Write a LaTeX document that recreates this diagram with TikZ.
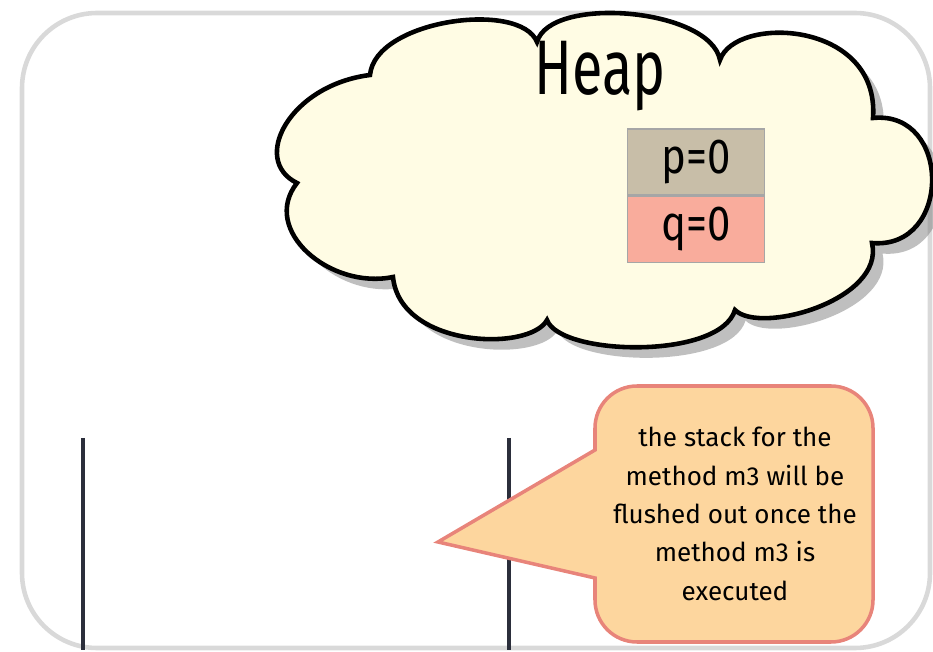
\documentclass[tikz,border=0pt]{standalone}
\usepackage{fontspec}
\setmainfont{Fira Sans}
\usetikzlibrary{shadows}
\definecolor{cloudfill}{HTML}{FFFCE4}
\definecolor{pfill}{HTML}{C8BEA8}
\definecolor{qfill}{HTML}{F9AC9C}
\definecolor{notefill}{HTML}{FDD69E}
\definecolor{noteline}{HTML}{E8847A}
\definecolor{stackline}{HTML}{2B2E3B}
\tikzset{
  heapcell/.style={draw=gray!70, minimum width=1.37cm, minimum height=0.66cm,
    inner sep=0pt, font=\fontsize{14}{16}\selectfont},
  stackwall/.style={stackline, line width=1.2pt},
}
\begin{document}
\begin{tikzpicture}[x=0.01cm, y=-0.01cm]
\useasboundingbox (0,0) rectangle (933,652);
% outer frame
\draw[gray!30, line width=1.3pt, rounded corners=0.75cm] (22,13) rectangle (930,648);
% heap cloud (nine puffs, valley to valley)
\draw[line width=1.3pt, fill=cloudfill,
  drop shadow={opacity=0.5, shadow xshift=3pt, shadow yshift=-3pt}]
  (370,75) .. controls (375,20) and (520,0) .. (537,42)
  .. controls (550,-5) and (710,8) .. (720,60)
  .. controls (735,15) and (880,20) .. (873,118)
  .. controls (952,110) and (952,250) .. (872,243)
  .. controls (885,300) and (760,335) .. (735,310)
  .. controls (720,360) and (560,356) .. (547,320)
  .. controls (530,352) and (400,348) .. (393,277)
  .. controls (330,290) and (260,230) .. (297,183)
  .. controls (250,160) and (290,85) .. (370,75) -- cycle;
\node[font=\fontsize{22}{24}\selectfont] (heaptitle) at (600,76) {\scalebox{0.72}[1]{Heap}};
\node[heapcell, fill=pfill] (pcell) at (696,162) {\scalebox{0.85}[1]{p=0}};
\node[heapcell, fill=qfill, anchor=north] (qcell) at (pcell.south) {\scalebox{0.85}[1]{q=0}};
% stack walls
\foreach \x/\n in {83/left, 509/right}{
  \coordinate (top\n) at (\x,438);
  \coordinate (bot\n) at (\x,650);
  \draw[stackwall] (top\n) -- (bot\n);
}
% note
\coordinate (tip) at (438,542);
\draw[noteline, fill=notefill, line width=1pt]
  (tip) -- (595,578) [rounded corners=0.42cm] -- (595,642) -- (873,642)
  -- (873,386) -- (595,386) [sharp corners] -- (595,450) -- cycle;
\node[align=center, font=\fontsize{7.4}{10.9}\selectfont] (note) at (735,514)
  {the stack for the\\method m3 will be\\flushed out once the\\method m3 is\\executed};
\end{tikzpicture}
\end{document}
